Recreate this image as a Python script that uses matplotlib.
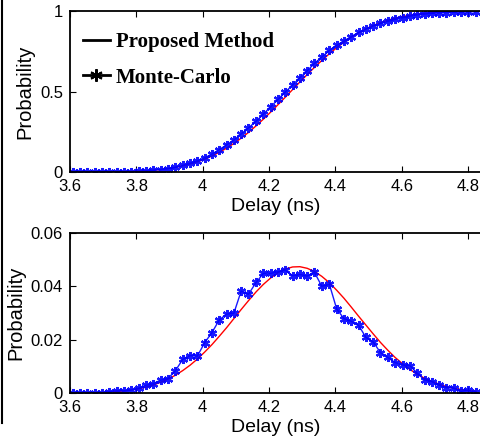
import matplotlib
matplotlib.use('Agg')
import matplotlib.pyplot as plt
from matplotlib.lines import Line2D

# Delay grid (ns) of the Monte-Carlo bins
delay = [3.608, 3.630, 3.652, 3.674, 3.696, 3.719, 3.741, 3.763, 3.785, 3.807,
         3.829, 3.851, 3.873, 3.895, 3.917, 3.940, 3.962, 3.984, 4.006, 4.028,
         4.050, 4.072, 4.094, 4.116, 4.138, 4.161, 4.183, 4.205, 4.227, 4.249,
         4.271, 4.293, 4.315, 4.337, 4.359, 4.382, 4.404, 4.426, 4.448, 4.470,
         4.492, 4.514, 4.536, 4.558, 4.580, 4.603, 4.625, 4.647, 4.669, 4.691,
         4.713, 4.735, 4.757, 4.779, 4.801, 4.824]

# Monte-Carlo CDF / PDF (blue)
mc_cdf = [0, 0, 0, 0, 0, 0.0006, 0.0015, 0.0024, 0.0036, 0.0055,
          0.0085, 0.0121, 0.0170, 0.0225, 0.0308, 0.0435, 0.0576, 0.0715, 0.0904, 0.1131,
          0.1405, 0.1701, 0.2000, 0.2382, 0.2752, 0.3166, 0.3614, 0.4062, 0.4516, 0.4976,
          0.5415, 0.5859, 0.6297, 0.6749, 0.7149, 0.7556, 0.7871, 0.8150, 0.8419, 0.8673,
          0.8882, 0.9074, 0.9226, 0.9360, 0.9475, 0.9581, 0.9684, 0.9759, 0.9809, 0.9853,
          0.9883, 0.9904, 0.9923, 0.9930, 0.9942, 0.9960]
mc_pdf = [0, 0, 0, 0, 0, 0.0006, 0.0009, 0.0009, 0.0012, 0.0019,
          0.0030, 0.0036, 0.0049, 0.0055, 0.0083, 0.0127, 0.0141, 0.0139, 0.0189, 0.0227,
          0.0274, 0.0296, 0.0299, 0.0382, 0.0370, 0.0414, 0.0448, 0.0448, 0.0454, 0.0460,
          0.0439, 0.0444, 0.0438, 0.0452, 0.0400, 0.0407, 0.0315, 0.0279, 0.0269, 0.0254,
          0.0209, 0.0192, 0.0152, 0.0134, 0.0115, 0.0106, 0.0103, 0.0075, 0.0050, 0.0044,
          0.0030, 0.0021, 0.0019, 0.0007, 0.0012, 0.0004]

# Proposed method (red)
pm_cdf = [0.0002, 0.0003, 0.0005, 0.0007, 0.0011, 0.0017, 0.0024, 0.0035, 0.0049, 0.0069,
          0.0095, 0.0130, 0.0175, 0.0233, 0.0307, 0.0403, 0.0517, 0.0654, 0.0819, 0.1013,
          0.1238, 0.1497, 0.1790, 0.2116, 0.2473, 0.2881, 0.3296, 0.3734, 0.4192, 0.4657,
          0.5128, 0.5600, 0.6060, 0.6506, 0.6932, 0.7353, 0.7725, 0.8067, 0.8374, 0.8648,
          0.8888, 0.9097, 0.9274, 0.9424, 0.9549, 0.9654, 0.9735, 0.9800, 0.9851, 0.9890,
          0.9920, 0.9942, 0.9959, 0.9971, 0.9980, 0.9987]
pm_pdf = [0.0001, 0.0001, 0.0001, 0.0002, 0.0003, 0.0005, 0.0007, 0.0009, 0.0013, 0.0017,
          0.0023, 0.0031, 0.0041, 0.0053, 0.0067, 0.0085, 0.0105, 0.0128, 0.0154, 0.0182,
          0.0213, 0.0245, 0.0279, 0.0313, 0.0346, 0.0379, 0.0407, 0.0431, 0.0451, 0.0464,
          0.0472, 0.0473, 0.0467, 0.0455, 0.0437, 0.0413, 0.0385, 0.0355, 0.0322, 0.0288,
          0.0255, 0.0222, 0.0190, 0.0161, 0.0134, 0.0110, 0.0089, 0.0071, 0.0056, 0.0044,
          0.0034, 0.0025, 0.0019, 0.0014, 0.0010, 0.0007]

xticks = [3.6, 3.8, 4.0, 4.2, 4.4, 4.6, 4.8]
xticklabels = ['3.6', '3.8', '4', '4.2', '4.4', '4.6', '4.8']

plt.rcParams['font.family'] = ['Liberation Sans', 'DejaVu Sans']

ASTER = (6, 2, 0)  # matlab-like asterisk

fig = plt.figure(figsize=(4.81, 4.37), dpi=100)
ax1 = fig.add_axes([0.1455, 0.6057, 0.8545, 0.3691])
ax2 = fig.add_axes([0.1455, 0.1000, 0.8545, 0.3675])


def style(ax, ylim, yticks, yticklabels):
    ax.set_xlim(3.6, 4.839)
    ax.set_ylim(*ylim)
    ax.set_xticks(xticks)
    ax.set_xticklabels(xticklabels)
    ax.set_yticks(yticks)
    ax.set_yticklabels(yticklabels)
    ax.spines['right'].set_visible(False)
    for s in ('left', 'top', 'bottom'):
        ax.spines[s].set_linewidth(1.3)
    ax.tick_params(direction='in', top=True, right=False, length=4, width=0.8,
                   labelsize=12)
    ax.tick_params(axis='x', pad=4.5)
    ax.tick_params(axis='y', pad=5)
    ax.set_xlabel('Delay (ns)', fontsize=14, labelpad=3)
    ax.set_ylabel('Probability', fontsize=14.5, labelpad=4)


ax1.plot(delay, pm_cdf, color='red', lw=1.0)
ax1.plot(delay, mc_cdf, color='blue', lw=1.0, marker=ASTER, ms=6.5, mew=1.6,
         mec='blue', alpha=0.9)
style(ax1, (0, 1), [0, 0.5, 1], ['0', '0.5', '1'])

ax2.plot(delay, pm_pdf, color='red', lw=1.0)
ax2.plot(delay, mc_pdf, color='blue', lw=1.0, marker=ASTER, ms=6.5, mew=1.6,
         mec='blue', alpha=0.9)
style(ax2, (0, 0.06), [0, 0.02, 0.04, 0.06], ['0', '0.02', '0.04', '0.06'])

handles = [Line2D([], [], color='black', lw=2),
           Line2D([], [], color='black', lw=2, marker=ASTER, ms=9, mew=1.5)]
ax1.legend(handles, ['Proposed Method', 'Monte-Carlo'], loc='upper left',
           bbox_to_anchor=(-0.005, 0.96), frameon=False, handlelength=1.3,
           handletextpad=0.3, labelspacing=0.75, borderaxespad=0.3,
           prop={'family': 'Liberation Serif', 'weight': 'bold', 'size': 15})

# left border rule
fig.add_artist(Line2D([0.005, 0.005], [1.0, 0.032], transform=fig.transFigure,
                      color='black', lw=1.5))

fig.savefig('out.png', dpi=100)
